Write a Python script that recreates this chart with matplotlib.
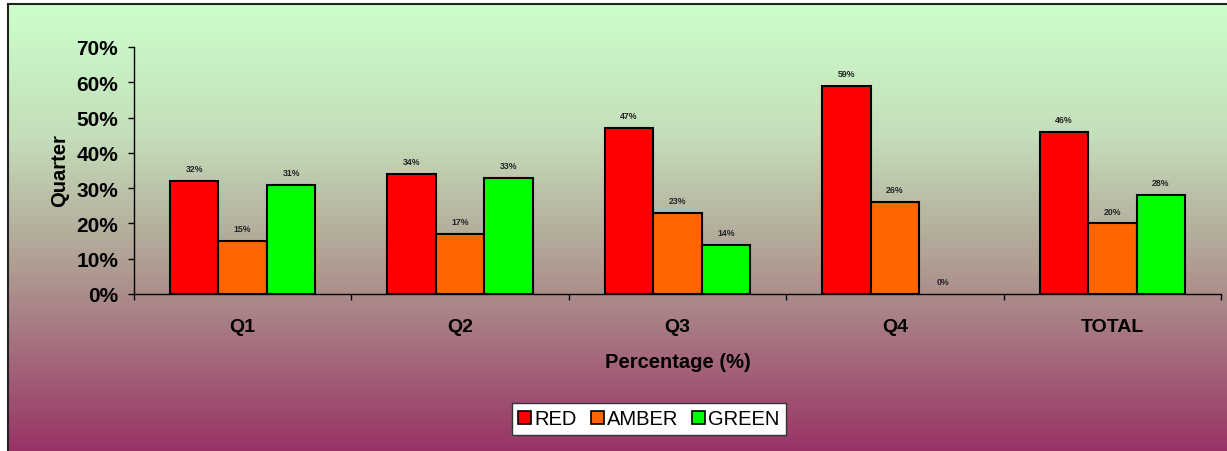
import numpy as np
import matplotlib
matplotlib.use("Agg")
import matplotlib.pyplot as plt
from matplotlib.colors import LinearSegmentedColormap
from matplotlib.ticker import PercentFormatter

plt.rcParams["font.family"] = ["Liberation Sans", "DejaVu Sans"]

categories = ["Q1", "Q2", "Q3", "Q4", "TOTAL"]
red = [32, 34, 47, 59, 46]
amber = [15, 17, 23, 26, 20]
green = [31, 33, 14, 0, 28]
series_names = ["RED", "AMBER", "GREEN"]
series_colors = ["#FF0000", "#FF6600", "#00FF00"]
y_ticks = [0, 10, 20, 30, 40, 50, 60, 70]

W, H = 1227, 452
fig = plt.figure(figsize=(W / 100, H / 100), dpi=100)
fig.patch.set_facecolor("white")

# gradient background
bg = fig.add_axes([8 / W, 0, 1 - 8 / W, 1 - 5 / H], zorder=-10)
cmap = LinearSegmentedColormap.from_list(
    "g", [(0, "#CCFFCC"), (0.3, "#C4DDBA"), (0.6, "#AE9A90"), (1, "#993366")])
grad = np.linspace(0, 1, 256).reshape(-1, 1)
bg.imshow(grad, aspect="auto", cmap=cmap, extent=[0, 1, 1, 0])
bg.set_xlim(0, 1); bg.set_ylim(1, 0)
for side in ["right", "bottom"]:
    bg.spines[side].set_visible(False)
for side in ["left", "top"]:
    bg.spines[side].set_linewidth(1.5)
    bg.spines[side].set_color("#222222")
bg.set_xticks([]); bg.set_yticks([])

ax = fig.add_axes([134 / W, 1 - 295 / H, (1221 - 134) / W, (295 - 48) / H])
ax.set_facecolor("none")
x = np.arange(len(categories))
bw = 0.223
data = [red, amber, green]
for i, (vals, name, col) in enumerate(zip(data, series_names, series_colors)):
    pos = x + (i - 1) * bw
    lws = [1.5 if v > 0 else 0 for v in vals]
    ax.bar(pos, vals, width=bw, color=col, edgecolor="black", linewidth=lws,
           label=name, zorder=3)
    for p, v in zip(pos, vals):
        ax.text(p, v + 2.2, f"{v}%", ha="center", va="bottom", fontsize=6.3,
                fontweight="bold", color="#222222")

ax.set_xlim(-0.5, len(categories) - 0.5)
ax.set_ylim(0, 70)
ax.set_yticks(y_ticks)
ax.yaxis.set_major_formatter(PercentFormatter(decimals=0))
ax.set_xticks(np.arange(len(categories) + 1) - 0.5, minor=False)
ax.set_xticklabels([])
ax.set_xticks(x, minor=True)
ax.set_xticklabels(categories, minor=True)
ax.tick_params(axis="x", which="minor", length=0, pad=17, labelsize=14)
ax.tick_params(axis="x", which="major", length=4, direction="out", width=1)
ax.tick_params(axis="y", length=4.5, direction="out", width=1, labelsize=15, pad=7)
for lab in ax.get_yticklabels() + ax.get_xticklabels(minor=True):
    lab.set_fontweight("bold")
for side in ["top", "right"]:
    ax.spines[side].set_visible(False)
ax.spines["left"].set_linewidth(1)
ax.spines["bottom"].set_linewidth(1)

fig.text(60 / W, 1 - 171 / H, "Quarter", rotation=90, ha="center", va="center",
         fontsize=14.5, fontweight="bold")
fig.text(678 / W, 1 - 362 / H, "Percentage (%)", ha="center", va="center",
         fontsize=14.5, fontweight="bold")

leg = fig.legend(loc="center", bbox_to_anchor=(649 / W, 1 - 420 / H), ncol=3,
                 frameon=True, fancybox=False, fontsize=14.5, handlelength=0.65,
                 handleheight=0.65, handletextpad=0.15, columnspacing=0.7,
                 borderpad=0.3, framealpha=1)
leg.get_frame().set_edgecolor("#333333")
leg.get_frame().set_facecolor("white")
leg.get_frame().set_linewidth(1)
for h in leg.legend_handles:
    h.set_linewidth(1.2)

fig.savefig("out.png", dpi=100)
